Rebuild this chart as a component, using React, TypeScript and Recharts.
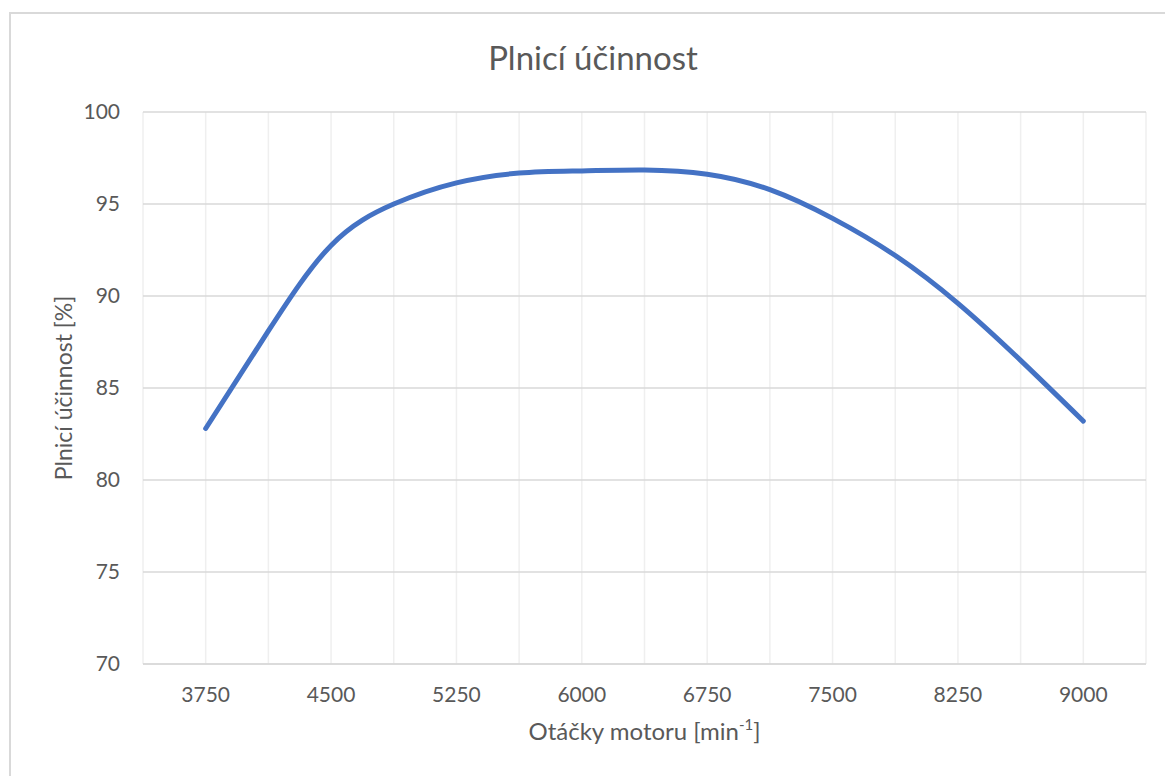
import { LineChart, Line, XAxis, YAxis, CartesianGrid, Label } from 'recharts'

// otáčky motoru [min-1]
const rpm = [3750, 4125, 4500, 4875, 5250, 5625, 6000, 6375, 6750, 7125, 7500, 7875, 8250, 8625, 9000]
// plnicí účinnost [%]
const efficiency = [82.8, 88.1, 92.75, 95.0, 96.15, 96.68, 96.8, 96.85, 96.62, 95.78, 94.22, 92.2, 89.6, 86.5, 83.2]

const xGridTicks = [3375, 3750, 4125, 4500, 4875, 5250, 5625, 6000, 6375, 6750, 7125, 7500, 7875, 8250, 8625, 9000, 9375]
const xLabels = [3750, 4500, 5250, 6000, 6750, 7500, 8250, 9000]
const yTicks = [70, 75, 80, 85, 90, 95, 100]

const title = 'Plnicí účinnost'
const yTitle = 'Plnicí účinnost [%]'

const data = rpm.map((x, i) => ({ rpm: x, eff: efficiency[i] }))

const FONT = 'Lato, "Noto Sans", sans-serif'
const TEXT = '#595959'

export default function App() {
  return (
    <div
      style={{
        position: 'absolute',
        left: 9,
        top: 12,
        width: 1154,
        height: 762,
        borderTop: '2px solid #d9d9d9',
        borderLeft: '2px solid #d9d9d9',
        background: '#fff',
        fontFamily: FONT,
      }}
    >
      <LineChart width={1154} height={762} data={data} margin={{ top: 98, right: 19, left: 0, bottom: 42 }}>
        <text x={582} y={56} textAnchor="middle" fill={TEXT} fontSize={33} fontFamily={FONT}>
          {title}
        </text>
        {/* vertikální mřížka je světlejší */}
        <CartesianGrid vertical={true} horizontal={false} stroke="#efefef" strokeWidth={1.5} />
        <CartesianGrid vertical={false} horizontal={true} stroke="#d9d9d9" strokeWidth={1.5} />
        <XAxis
          dataKey="rpm"
          type="number"
          domain={[3375, 9375]}
          ticks={xGridTicks}
          interval={0}
          height={70}
          axisLine={{ stroke: '#d9d9d9', strokeWidth: 1.5 }}
          tickLine={false}
          tickSize={0}
          tickMargin={23}
          tick={{ fill: TEXT, fontSize: 21, fontFamily: FONT }}
          tickFormatter={(v: number) => (xLabels.includes(v) ? String(v) : '')}
        >
          <Label
            content={({ viewBox }: any) => (
              <text
                x={viewBox.x + viewBox.width / 2}
                y={viewBox.y + 76}
                textAnchor="middle"
                fill={TEXT}
                fontSize={24}
                fontFamily={FONT}
              >
                Otáčky motoru [min
                <tspan fontSize={15} dy={-10}>-1</tspan>
                <tspan dy={10}>]</tspan>
              </text>
            )}
          />
        </XAxis>
        <YAxis
          type="number"
          domain={[70, 100]}
          ticks={yTicks}
          width={132}
          axisLine={false}
          tickLine={false}
          tickSize={0}
          tickMargin={23}
          tick={{ fill: TEXT, fontSize: 21, fontFamily: FONT }}
        >
          <Label
            content={({ viewBox }: any) => (
              <text
                x={61}
                y={viewBox.y + viewBox.height / 2}
                transform={`rotate(-90, 61, ${viewBox.y + viewBox.height / 2})`}
                textAnchor="middle"
                fill={TEXT}
                fontSize={23}
                fontFamily={FONT}
              >
                {yTitle}
              </text>
            )}
          />
        </YAxis>
        <Line
          type="natural"
          dataKey="eff"
          stroke="#4472c4"
          strokeWidth={5}
          strokeLinecap="round"
          dot={false}
          activeDot={false}
          isAnimationActive={false}
        />
      </LineChart>
    </div>
  )
}
